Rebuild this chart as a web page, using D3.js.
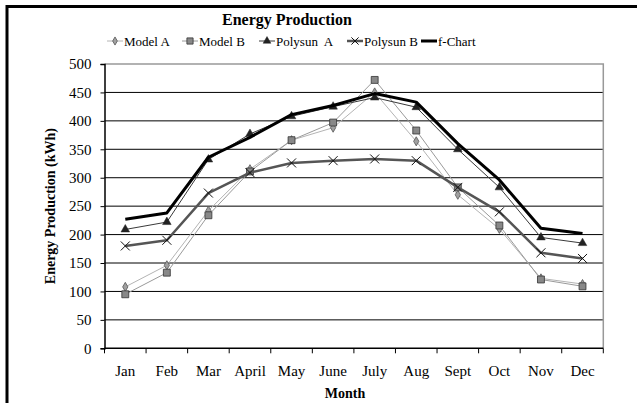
<!DOCTYPE html>
<html lang="en">
<head>
<meta charset="UTF-8">
<title>Energy Production</title>
<script src="https://cdnjs.cloudflare.com/ajax/libs/d3/7.8.5/d3.min.js"></script>
<style>
  body { margin: 0; background: #fff; }
  svg text { font-family: "Liberation Serif", "Times New Roman", "DejaVu Serif", serif !important; }
  .tick-label { font-size: 15px; fill: #000; }
  .axis-title { font-size: 14px; font-weight: bold; fill: #000; }
  .legend-text { font-size: 13px; fill: #000; }
</style>
</head>
<body>
<svg id="chart" width="637" height="403"></svg>
<script>
// --- Data ---
const months = ["Jan", "Feb", "Mar", "April", "May", "June", "July", "Aug", "Sept", "Oct", "Nov", "Dec"];
const seriesNames = ["Model A", "Model B", "Polysun  A", "Polysun B", "f-Chart"];
const modelA   = [108, 146, 242, 315, 366, 388, 450, 364, 270, 210, 123, 113];
const modelB   = [95, 133, 234, 311, 366, 397, 472, 383, 283, 216, 121, 109];
const polysunA = [209, 222, 332, 377, 408, 425, 441, 424, 350, 283, 195, 185];
const polysunB = [180, 190, 273, 309, 326, 330, 333, 330, 283, 240, 168, 158];
const fChart   = [227, 238, 336, 371, 411, 427, 448, 433, 360, 296, 211, 202];
const yTicks = [0, 50, 100, 150, 200, 250, 300, 350, 400, 450, 500];

const series = [
  { name: seriesNames[0], values: modelA,   color: "#b4b4b4", width: 1,   marker: "diamond" },
  { name: seriesNames[1], values: modelB,   color: "#9a9a9a", width: 1,   marker: "square" },
  { name: seriesNames[2], values: polysunA, color: "#3a3a3a", width: 1,   marker: "triangle" },
  { name: seriesNames[3], values: polysunB, color: "#555555", width: 2.5, marker: "cross" },
  { name: seriesNames[4], values: fChart,   color: "#000000", width: 3,   marker: null }
];

const svg = d3.select("#chart");
const plot = { left: 104.5, right: 603.3, top: 64, bottom: 348.3 };

const x = d3.scaleBand().domain(months).range([plot.left, plot.right]);
const y = d3.scaleLinear().domain([0, 500]).range([plot.bottom, plot.top]);

// outer frame (only top and left visible)
svg.append("line").attr("x1", 7).attr("x2", 637).attr("y1", 6.5).attr("y2", 6.5)
  .attr("stroke", "#000").attr("stroke-width", 3);
svg.append("line").attr("x1", 7).attr("x2", 7).attr("y1", 5).attr("y2", 403)
  .attr("stroke", "#000").attr("stroke-width", 3);

// title
svg.append("text").attr("x", 287).attr("y", 25).attr("text-anchor", "middle")
  .style("font-size", "16px").style("font-weight", "bold").text("Energy Production");

// gridlines
svg.append("g").selectAll("line").data(yTicks.filter(d => d > 0 && d < 500)).join("line")
  .attr("x1", plot.left).attr("x2", plot.right)
  .attr("y1", d => y(d)).attr("y2", d => y(d))
  .attr("stroke", "#000").attr("stroke-width", 1);

// plot frame top/right in gray
svg.append("path")
  .attr("d", `M${plot.left},${plot.top}H${plot.right}V${plot.bottom}`)
  .attr("fill", "none").attr("stroke", "#999").attr("stroke-width", 1.5);

// y axis
const yAxis = svg.append("g").attr("transform", `translate(${plot.left},0)`)
  .call(d3.axisLeft(y).tickValues(yTicks).tickSize(4).tickPadding(9))
  .attr("font-family", null).attr("font-size", null);
yAxis.select(".domain").attr("stroke", "#000").attr("stroke-width", 1.5);
yAxis.selectAll(".tick line").attr("stroke", "#000");
yAxis.selectAll(".tick text").attr("class", "tick-label");

// x axis with ticks at category boundaries
const xAxis = svg.append("g").attr("transform", `translate(0,${plot.bottom})`)
  .call(d3.axisBottom(x).tickSize(0).tickPadding(17))
  .attr("font-family", null).attr("font-size", null);
xAxis.select(".domain").remove();
xAxis.selectAll(".tick text").attr("class", "tick-label");
xAxis.append("line").attr("x1", plot.left).attr("x2", plot.right)
  .attr("stroke", "#000").attr("stroke-width", 1.5);
xAxis.selectAll(".bound").data(months.concat([null])).join("line").attr("class", "bound")
  .attr("x1", (d, i) => plot.left + i * x.bandwidth()).attr("x2", (d, i) => plot.left + i * x.bandwidth())
  .attr("y1", 0).attr("y2", 5).attr("stroke", "#000");

// axis titles
svg.append("text").attr("class", "axis-title")
  .attr("transform", `translate(55,${(plot.top + plot.bottom) / 2}) rotate(-90)`)
  .attr("text-anchor", "middle").text("Energy Production (kWh)");
svg.append("text").attr("class", "axis-title").attr("x", 345).attr("y", 398)
  .attr("text-anchor", "middle").text("Month");

// markers
function drawMarker(g, type, size) {
  const s = size || 1;
  if (type === "diamond") {
    g.append("path").attr("d", d3.symbol(d3.symbolDiamond, 24 * s)())
      .attr("fill", "#a0a0a0").attr("stroke", "#555").attr("stroke-width", 0.8);
  } else if (type === "square") {
    g.append("path").attr("d", d3.symbol(d3.symbolSquare, 48 * s)())
      .attr("fill", "#888").attr("stroke", "#333").attr("stroke-width", 0.8);
  } else if (type === "triangle") {
    g.append("path").attr("d", d3.symbol(d3.symbolTriangle, 32 * s)())
      .attr("fill", "#222").attr("stroke", "#222").attr("stroke-width", 0.5);
  } else if (type === "cross") {
    const r = 4.5 * s;
    g.append("path").attr("d", `M${-r},${-r}L${r},${r}M${-r},${r}L${r},${-r}`)
      .attr("fill", "none").attr("stroke", "#111").attr("stroke-width", 1);
  }
}

const line = d3.line().x((d, i) => x(months[i]) + x.bandwidth() / 2).y(d => y(d));

series.forEach(s => {
  const g = svg.append("g");
  g.append("path").attr("d", line(s.values)).attr("fill", "none")
    .attr("stroke", s.color).attr("stroke-width", s.width).attr("stroke-linejoin", "round");
  if (s.marker) {
    s.values.forEach((v, i) => {
      const m = g.append("g").attr("transform", `translate(${x(months[i]) + x.bandwidth() / 2},${y(v)})`);
      drawMarker(m, s.marker);
    });
  }
});

// legend
const legendX = [107, 182, 259, 347, 421];
const legendY = 41;
series.forEach((s, i) => {
  const g = svg.append("g").attr("transform", `translate(${legendX[i]},${legendY})`);
  g.append("line").attr("x1", 0).attr("x2", 16).attr("stroke", s.color)
    .attr("stroke-width", s.width);
  if (s.marker) {
    const m = g.append("g").attr("transform", "translate(8,0)");
    drawMarker(m, s.marker, 0.8);
  }
  g.append("text").attr("class", "legend-text").attr("x", 17).attr("y", 4.5)
    .attr("xml:space", "preserve").text(s.name);
});
</script>
</body>
</html>
